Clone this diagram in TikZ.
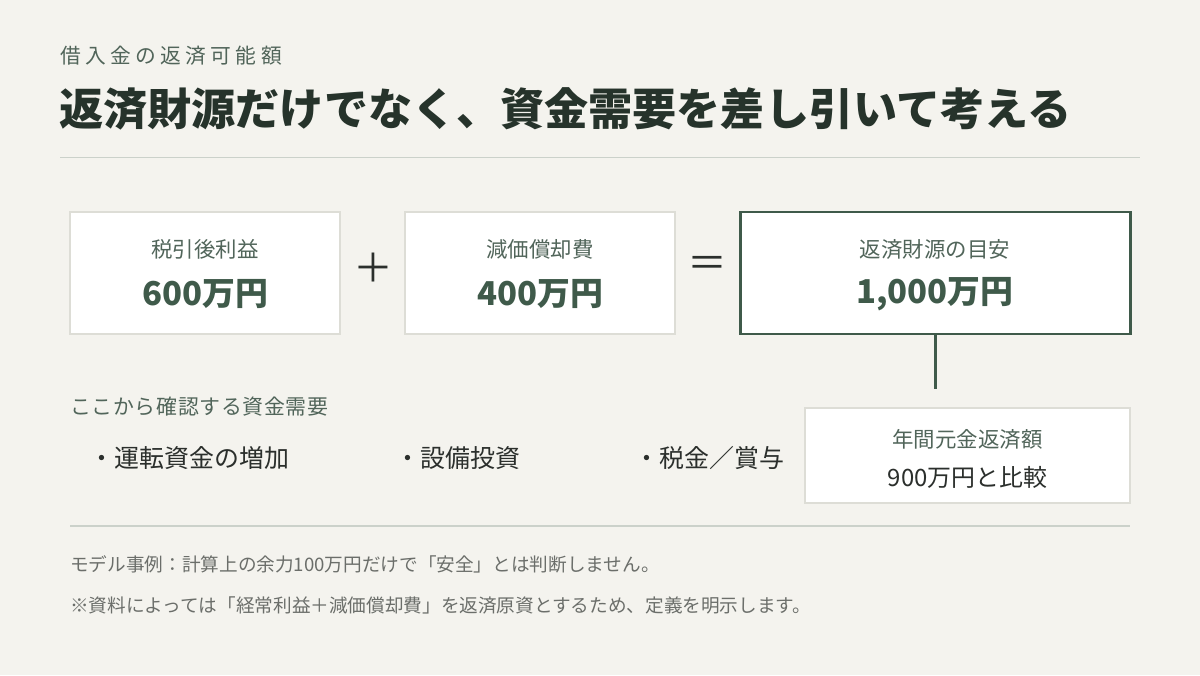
\documentclass[tikz,border=0pt]{standalone}
\usepackage{fontspec}
\setmainfont{Noto Sans CJK JP}
\newfontfamily\spacedfont[LetterSpace=21]{Noto Sans CJK JP}
\newfontfamily\lightspaced[LetterSpace=3]{Noto Sans CJK JP}
\usepackage{xcolor}
\usepackage{tikz}
\usetikzlibrary{positioning}

\definecolor{paper}{HTML}{F4F3EE}
\definecolor{ink}{HTML}{26332B}
\definecolor{subgreen}{HTML}{51655A}
\definecolor{deepgreen}{HTML}{3F5A4A}
\definecolor{cardline}{HTML}{DDDDD6}
\definecolor{rulegray}{HTML}{CBD1CA}
\definecolor{textdark}{HTML}{2B2F2C}
\definecolor{notegray}{HTML}{6B6E6A}

\begin{document}
\begin{tikzpicture}[
  card/.style={draw=cardline, line width=0.85pt, fill=white, minimum width=5.4cm, minimum height=2.44cm, inner sep=0pt},
  keycard/.style={card, draw=deepgreen, line width=1.7pt, minimum width=7.8cm},
  caption/.style={inner sep=0pt, text=subgreen, font=\fontsize{12.2}{14}\selectfont},
  amount/.style={inner sep=0pt, text=deepgreen, font=\fontsize{18.7}{22}\selectfont\bfseries},
  operator/.style={inner sep=0pt, text=textdark, font=\fontsize{22.7}{26}\selectfont},
  item/.style={inner sep=0pt, anchor=west, text=textdark, font=\fontsize{14.2}{17}\selectfont},
  note/.style={inner sep=0pt, anchor=west, text=notegray, font=\fontsize{10.6}{13}\selectfont},
  rule/.style={draw=rulegray, line width=1.1pt},
  link/.style={draw=deepgreen, line width=1.7pt}
]
  % Canvas
  \useasboundingbox (0,0) rectangle (24,13.5);
  \fill[paper] (0,0) rectangle (24,13.5);

  % Heading
  \node[inner sep=0pt, anchor=west, text=subgreen, font=\fontsize{11.8}{14}\selectfont\spacedfont] (kicker) at (1.2,12.38) {借入金の返済可能額};
  \node[inner sep=0pt, anchor=west, text=ink, font=\fontsize{25.1}{30}\selectfont\bfseries] (title) at (1.18,11.32) {返済財源だけでなく、資金需要を差し引いて考える};
  \coordinate (ruleL) at (1.2,10.35);
  \coordinate (ruleR) at (22.8,10.35);
  \draw[rule] (ruleL) -- (ruleR);

  % Formula
  \node[card] (profit) at (4.1,8.04) {};
  \node[caption] (profitT) at (4.1,8.51) {税引後利益};
  \node[amount] (profitV) at (4.1,7.62) {600万円};

  \node[operator] (plus) at (7.46,8.14) {＋};

  \node[card] (deprec) at (10.8,8.04) {};
  \node[caption] (deprecT) at (10.8,8.51) {減価償却費};
  \node[amount] (deprecV) at (10.8,7.62) {400万円};

  \node[operator] (equal) at (14.14,8.16) {＝};

  \node[keycard] (source) at (18.7,8.04) {};
  \node[caption] (sourceT) at (18.7,8.51) {返済財源の目安};
  \node[amount] (sourceV) at (18.7,7.62) {1,000万円};

  % Connector
  \coordinate (linkend) at (18.7,5.72);
  \draw[link] (source.south) -- (linkend);

  % Fund needs
  \node[inner sep=0pt, anchor=west, text=subgreen, font=\fontsize{11.9}{14}\selectfont\lightspaced] (needs) at (1.4,5.36) {ここから確認する資金需要};
  \node[item] (need1) at (1.78,4.33) {・運転資金の増加};
  \node[item] (need2) at (7.91,4.33) {・設備投資};
  \node[item] (need3) at (12.69,4.33) {・税金／賞与};

  \node[card, minimum width=6.5cm, minimum height=1.9cm] (repay) at (19.35,4.39) {};
  \node[caption] (repayT) at (19.35,4.72) {年間元金返済額};
  \node[inner sep=0pt, text=textdark, font=\fontsize{13.6}{16}\selectfont] (repayV) at (19.35,3.96) {900万円と比較};

  % Notes
  \coordinate (rule2L) at (1.4,2.98);
  \coordinate (rule2R) at (22.6,2.98);
  \draw[rule] (rule2L) -- (rule2R);
  \node[note] (note1) at (1.4,2.21) {モデル事例：計算上の余力100万円だけで「安全」とは判断しません。};
  \node[note] (note2) at (1.4,1.4) {※資料によっては「経常利益＋減価償却費」を返済原資とするため、定義を明示します。};
\end{tikzpicture}
\end{document}
